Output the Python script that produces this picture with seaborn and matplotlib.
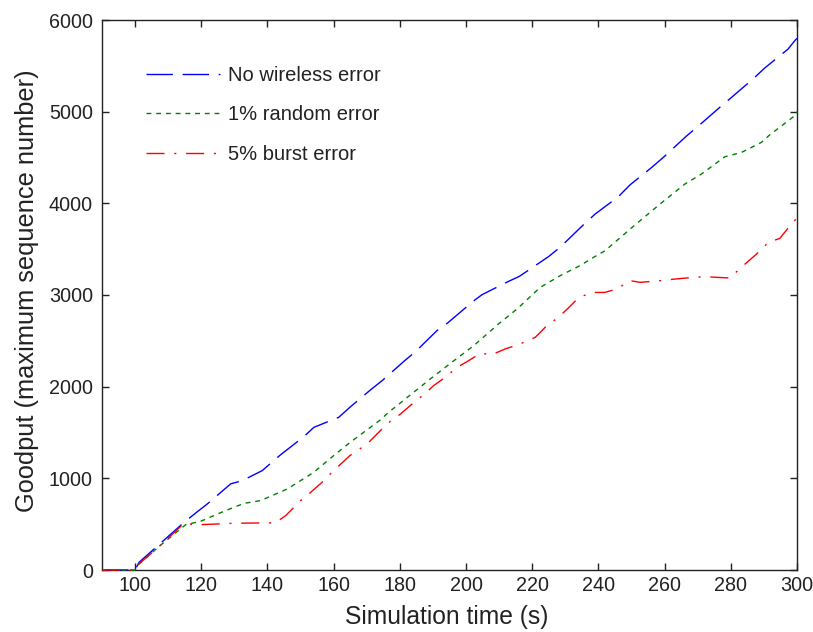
import numpy as np
import pandas as pd
import matplotlib
matplotlib.use("Agg")
import matplotlib.pyplot as plt
import seaborn as sns

# ---- data ----
series_names = ["No wireless error", "1% random error", "5% burst error"]

blue_x = [90, 100, 101.2, 114.8, 118.6, 121.8, 128.9, 132.4, 138.4, 144, 151, 154, 159, 161.5,
          164.9, 171.1, 174.6, 181.7, 184.7, 191.2, 194.4, 202.1, 204.8, 212.8, 216.1, 224.9,
          228.4, 235.5, 239, 246, 249.6, 256.1, 259.6, 266.7, 269.7, 277.2, 280.2, 287.2,
          290.2, 297.3, 299.3, 300]
blue_y = [0, 0, 84, 520, 630, 720, 940, 975, 1084, 1258, 1455, 1556, 1629, 1665,
          1775, 1964, 2065, 2291, 2381, 2611, 2694, 2930, 3003, 3148, 3203, 3418,
          3520, 3767, 3883, 4072, 4203, 4392, 4501, 4737, 4828, 5064, 5155, 5373,
          5475, 5683, 5773, 5800]

green_x = [90, 100, 101, 108, 115.3, 119.8, 126.8, 132.9, 137.9, 146, 154, 160, 165, 174.1,
           176.6, 189.2, 193.7, 202.3, 209.8, 215.4, 222.4, 228.4, 231.4, 234.4, 238.5, 242,
           249.6, 258.6, 266.1, 271.1, 278.2, 283.2, 289.2, 291.7, 299.3, 300]
green_y = [0, 0, 60, 280, 495, 531, 640, 727, 757, 884, 1066, 1248, 1393, 1637,
           1720, 2084, 2211, 2447, 2684, 2847, 3083, 3210, 3265, 3320, 3410, 3483,
           3720, 3992, 4210, 4319, 4508, 4555, 4664, 4745, 4955, 5000]

red_x = [90, 100, 101, 108, 114.8, 117, 120, 130, 142.4, 145.5, 150, 152.5, 156.5, 160, 164.9,
         170.1, 174.1, 177.1, 180.2, 183.7, 187.2, 190.2, 193.7, 197.3, 200.8, 204.3, 207.8,
         211.8, 215.8, 220.9, 224.4, 227.9, 230.9, 233.9, 237.9, 241.9, 245.5, 249.6, 252.6,
         258.6, 263.1, 268.6, 272.6, 279.7, 283.7, 287.8, 291.3, 294.8, 297.9, 300]
red_y = [0, 0, 60, 280, 510, 500, 495, 510, 515, 593, 757, 830, 957, 1084, 1248,
         1375, 1520, 1622, 1702, 1811, 1913, 2011, 2102, 2211, 2284, 2364, 2349,
         2411, 2458, 2538, 2665, 2756, 2858, 2967, 3028, 3028, 3065, 3156, 3138,
         3156, 3174, 3192, 3199, 3185, 3319, 3447, 3574, 3617, 3756, 3840]

x_ticks = [100, 120, 140, 160, 180, 200, 220, 240, 260, 280, 300]
y_ticks = [0, 1000, 2000, 3000, 4000, 5000, 6000]

# ---- build long-form table ----
frames = []
for name, xs, ys in zip(series_names, [blue_x, green_x, red_x], [blue_y, green_y, red_y]):
    frames.append(pd.DataFrame({"time": xs, "goodput": ys, "series": name}))
df = pd.concat(frames, ignore_index=True)

sns.set_style("ticks")
plt.rcParams["font.family"] = ["Liberation Sans", "DejaVu Sans"]
plt.rcParams["xtick.direction"] = "in"
plt.rcParams["ytick.direction"] = "in"

fig = plt.figure(figsize=(8.13, 6.32), dpi=100)
ax = fig.add_axes([102 / 813, 62 / 632, 695 / 813, 550 / 632])

palette = {series_names[0]: "#0000ff", series_names[1]: "#008000", series_names[2]: "#ff0000"}
dashes = {series_names[0]: (19, 7), series_names[1]: (3.5, 3.5), series_names[2]: (13, 7, 1.5, 7)}

sns.lineplot(data=df, x="time", y="goodput", hue="series", style="series",
             palette=palette, dashes=dashes, hue_order=series_names, style_order=series_names,
             sort=False, estimator=None, units="series", linewidth=1.0, ax=ax, legend=False)
for ln in ax.get_lines():
    ln.set_zorder(3)
    ln.set_clip_on(False)

ax.set_xlim(90, 300)
ax.set_ylim(0, 6000)
ax.set_xticks(x_ticks)
ax.set_yticks(y_ticks)
ax.tick_params(axis="both", which="both", direction="in", top=True, right=True,
               length=5, width=1, labelsize=14.2, colors="#222222")
ax.tick_params(axis="x", pad=4.5)
ax.tick_params(axis="y", pad=6.5)
for s in ax.spines.values():
    s.set_visible(True)
    s.set_linewidth(1.0)
    s.set_color("#222222")

ax.set_xlabel("Simulation time (s)", fontsize=17.7, color="#222222")
ax.set_ylabel("Goodput (maximum sequence number)", fontsize=18.3, color="#222222")
ax.xaxis.set_label_coords(0.496, -0.0855, transform=ax.transAxes)
ax.yaxis.set_label_coords(-0.1086, 0.507, transform=ax.transAxes)
ax.xaxis.label.set_va("center")
ax.yaxis.label.set_va("center")

handles = ax.get_lines()[:3]
leg = ax.legend(handles, series_names, loc="upper left", bbox_to_anchor=(0.064, 0.917),
                frameon=False, fontsize=14.5, handlelength=3.63, handletextpad=0.4,
                labelspacing=1.02, borderpad=0, borderaxespad=0)
for t in leg.get_texts():
    t.set_color("#222222")

fig.savefig("out.png", dpi=100)
